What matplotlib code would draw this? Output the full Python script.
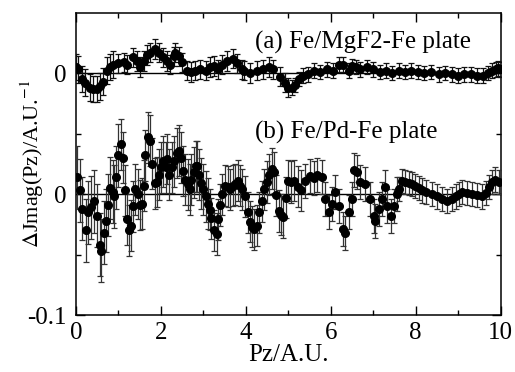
import numpy as np
import matplotlib
matplotlib.use("Agg")
import matplotlib.pyplot as plt
from matplotlib.ticker import FixedLocator

plt.rcParams['font.family'] = ['Liberation Serif', 'DejaVu Serif']
plt.rcParams['mathtext.fontset'] = 'stix'

# (a) Fe/MgF2-Fe plate, shifted up by offset_a
xa = [0.00, 0.05, 0.13, 0.20, 0.33, 0.41, 0.49, 0.57, 0.64, 0.72, 0.80, 0.88,
      1.00, 1.12, 1.20, 1.35, 1.43, 1.51, 1.60, 1.68, 1.75, 1.86, 1.95, 2.06,
      2.14, 2.22, 2.30, 2.34, 2.42, 2.49, 2.61, 2.70, 2.80, 2.93, 3.05, 3.15,
      3.24, 3.35, 3.45, 3.55, 3.70, 3.80, 3.90, 3.95, 4.10, 4.26, 4.40, 4.55,
      4.65, 4.80, 4.92, 5.00, 5.08, 5.15, 5.25, 5.35, 5.47, 5.60, 5.75, 5.90,
      6.05, 6.20, 6.30, 6.42, 6.50, 6.60, 6.70, 6.85, 7.00, 7.15, 7.30, 7.45,
      7.60, 7.76, 7.90, 8.05, 8.20, 8.35, 8.54, 8.70, 8.85, 9.00, 9.15, 9.30,
      9.45, 9.58, 9.70, 9.80, 9.90, 9.95, 10.0]
ya = [0.005, 0.003, -0.005, -0.008, -0.012, -0.013, -0.013, -0.011, -0.007, 0.002, 0.005, 0.007,
      0.008, 0.009, 0.007, 0.013, 0.010, 0.005, 0.010, 0.015, 0.017, 0.020, 0.017, 0.013,
      0.010, 0.007, 0.014, 0.017, 0.014, 0.009, 0.002, 0.001, 0.002, 0.003, 0.002, 0.005,
      0.006, 0.003, 0.007, 0.010, 0.012, 0.008, 0.003, 0.002, 0.000, 0.002, 0.003, 0.005,
      0.003, -0.003, -0.008, -0.012, -0.012, -0.010, -0.005, -0.002, -0.001, 0.002, 0.001, 0.003,
      0.002, 0.007, 0.007, 0.002, 0.006, 0.005, 0.003, 0.005, 0.003, 0.001, 0.002, 0.000,
      0.002, 0.001, 0.002, 0.001, 0.000, 0.001, -0.001, 0.000, -0.001, -0.002, -0.001, -0.001,
      -0.002, -0.002, 0.000, 0.002, 0.003, 0.004, 0.003]
ea = [0.011]*12 + [0.008]*40 + [0.006]*39
offset_a = 0.1

# (b) Fe/Pd-Fe plate
xb = [0.02, 0.10, 0.15, 0.23, 0.28, 0.35, 0.42, 0.49, 0.57, 0.60, 0.66, 0.71,
      0.75, 0.80, 0.86, 0.90, 0.95, 0.99, 1.05, 1.10, 1.15, 1.20, 1.24, 1.29,
      1.34, 1.39, 1.45, 1.50, 1.55, 1.59, 1.63, 1.70, 1.75, 1.79, 1.85, 1.90,
      1.96, 2.01, 2.06, 2.11, 2.15, 2.20, 2.25, 2.31, 2.37, 2.43, 2.47, 2.51,
      2.57, 2.63, 2.68, 2.72, 2.77, 2.82, 2.86, 2.90, 2.94, 3.00, 3.06, 3.10,
      3.15, 3.19, 3.25, 3.32, 3.35, 3.40, 3.45, 3.51, 3.57, 3.63, 3.69, 3.74,
      3.81, 3.86, 3.92, 3.98, 4.04, 4.10, 4.14, 4.20, 4.26, 4.32, 4.37, 4.43,
      4.50, 4.55, 4.61, 4.66, 4.71, 4.77, 4.83, 4.88, 4.94, 5.00, 5.06, 5.14,
      5.22, 5.30, 5.40, 5.52, 5.60, 5.68, 5.80, 5.87, 5.95, 6.02, 6.10, 6.20,
      6.30, 6.34, 6.42, 6.50, 6.55, 6.62, 6.70, 6.80, 6.93, 7.02, 7.05, 7.13,
      7.21, 7.27, 7.33, 7.41, 7.49, 7.55, 7.60, 7.68, 7.76, 7.85, 7.92, 7.99,
      8.07, 8.15, 8.25, 8.39, 8.50, 8.62, 8.74, 8.85, 8.94, 9.02, 9.10, 9.20,
      9.33, 9.45, 9.57, 9.65, 9.72, 9.80, 9.88, 9.96]
yb = [0.014, 0.003, -0.012, -0.030, -0.015, -0.011, -0.006, -0.018, -0.042, -0.047, -0.032, -0.022,
      -0.009, 0.005, 0.002, -0.002, 0.014, 0.032, 0.041, 0.030, 0.003, -0.021, -0.030, -0.026,
      -0.010, 0.004, 0.000, -0.009, -0.008, 0.007, 0.032, 0.047, 0.044, 0.025, 0.009, 0.010,
      0.016, 0.022, 0.027, 0.022, 0.029, 0.016, 0.022, 0.027, 0.034, 0.036, 0.030, 0.019,
      0.012, 0.008, 0.004, 0.012, 0.018, 0.023, 0.023, 0.016, 0.009, 0.004, -0.002, -0.008,
      -0.013, -0.020, -0.030, -0.033, -0.021, -0.009, 0.000, 0.007, 0.006, 0.004, 0.007, 0.008,
      0.011, 0.007, 0.004, -0.002, -0.015, -0.023, -0.027, -0.029, -0.026, -0.015, -0.006, 0.004,
      0.010, 0.016, 0.021, 0.018, -0.001, -0.014, -0.017, -0.019, -0.003, 0.011, 0.010, 0.011,
      0.006, 0.003, 0.011, 0.015, 0.013, 0.016, 0.014, -0.004, -0.015, -0.008, 0.002, -0.010,
      -0.029, -0.032, -0.015, -0.004, 0.020, 0.018, 0.010, 0.008, -0.004, -0.018, -0.022, -0.012,
      -0.004, 0.006, -0.010, -0.018, -0.010, 0.000, 0.004, 0.011, 0.010, 0.009, 0.008, 0.007,
      0.005, 0.003, 0.002, 0.000, -0.002, -0.004, -0.006, -0.004, -0.002, 0.000, 0.002, 0.001,
      0.000, -0.001, -0.002, 0.001, 0.006, 0.010, 0.012, 0.010]
eb = [0.026]*18 + [0.021]*42 + [0.017]*38 + [0.014]*28 + [0.010]*26

fig = plt.figure(figsize=(5.15, 3.72), dpi=100)
ax = fig.add_axes([0.1476, 0.1532, 0.8244, 0.8128])

ax.axhline(0, color='black', lw=1.0, zorder=1)
ax.axhline(offset_a, color='black', lw=1.0, zorder=1)

ax.errorbar(xb, yb, yerr=eb, fmt='o', color='black', ms=5.5, ecolor='#333333',
            elinewidth=0.9, capsize=2.3, capthick=0.9, zorder=3)
ax.errorbar(xa, np.array(ya) + offset_a, yerr=ea, fmt='o', color='black', ms=5.5,
            ecolor='#111111', elinewidth=0.9, capsize=2.3, capthick=0.9, zorder=3)

fs = 18
ax.text(4.22, 0.1256, '(a) Fe/MgF2-Fe plate', fontsize=fs, va='center', ha='left')
ax.text(4.22, 0.0512, '(b) Fe/Pd-Fe plate', fontsize=fs, va='center', ha='left')

ax.set_xlim(0, 10)
ax.set_ylim(-0.1, 0.15)
ax.set_xticks([0, 2, 4, 6, 8, 10])
ax.xaxis.set_minor_locator(FixedLocator([1, 3, 5, 7, 9]))
ax.set_yticks([-0.1, 0, 0.1])
ax.set_yticklabels(['-0.1', '0', '0'])
ax.yaxis.set_minor_locator(FixedLocator([-0.05, 0.05]))
ax.tick_params(which='both', direction='in', top=True, right=True,
               labelsize=fs, width=1.0)
ax.tick_params(which='major', length=6.5)
ax.tick_params(axis='y', which='major', pad=7)
ax.tick_params(axis='x', which='major', pad=5)
ax.tick_params(which='minor', length=3.5)
for s in ax.spines.values():
    s.set_linewidth(1.1)

ax.set_xlabel('Pz/A.U.', fontsize=fs, labelpad=0)
ax.set_ylabel(r'$\Delta$Jmag(Pz)/A.U.$^{-1}$', fontsize=16, va='center')
ax.yaxis.set_label_coords(-0.104, 0.5)

fig.savefig('out.png', dpi=100)
